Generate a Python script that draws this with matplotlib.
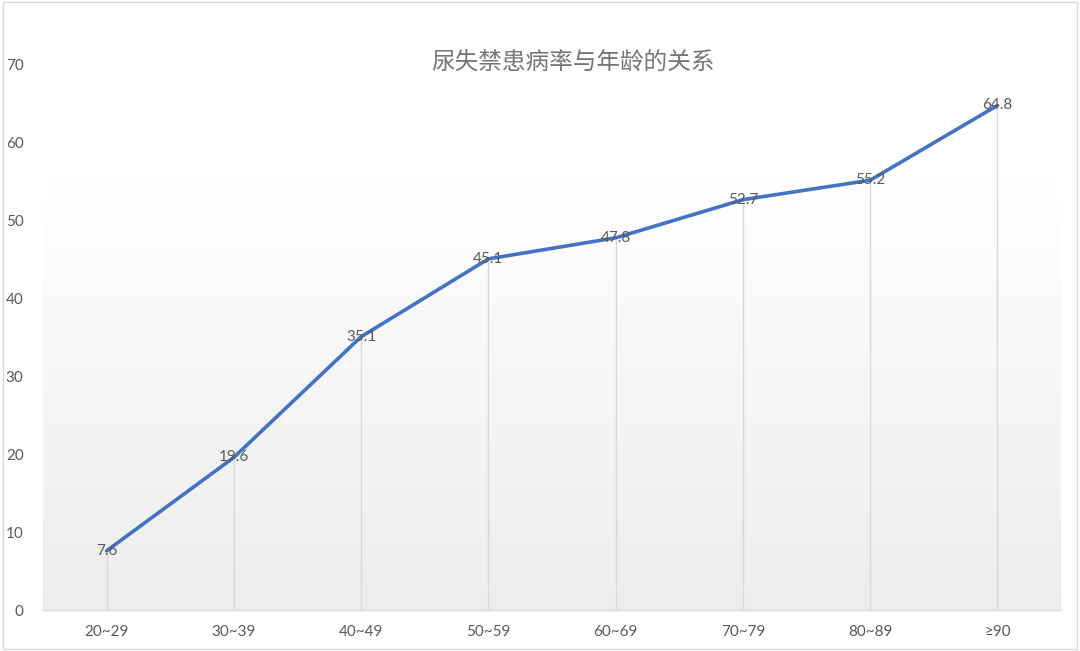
import numpy as np
import matplotlib
matplotlib.use("Agg")
import matplotlib.pyplot as plt
from matplotlib.patches import Rectangle

plt.rcParams['font.family'] = ['Lato', 'Noto Sans CJK SC', 'DejaVu Sans']

categories = ["20~29", "30~39", "40~49", "50~59", "60~69", "70~79", "80~89", "≥90"]
values = [7.6, 19.6, 35.1, 45.1, 47.8, 52.7, 55.2, 64.8]
title = "尿失禁患病率与年龄的关系"

gray_text = "#595959"
line_color = "#4472C4"

fig = plt.figure(figsize=(10.8, 6.51), dpi=100)
ax = fig.add_axes([43 / 1080, 1 - 610 / 651, (1061 - 43) / 1080, (610 - 65) / 651])

x = np.arange(len(categories))
ax.set_xlim(-0.5, len(categories) - 0.5)
ax.set_ylim(0, 70)

# soft gradient behind the lower part of the plot area
grad_top = (610 - 175) / (610 - 65)
grad = np.linspace(1.0, 0.0, 256).reshape(-1, 1)
shade = 1.0 - 0.07 * (1 - grad)
img = np.dstack([shade, shade, shade])
ax.imshow(img, extent=[0, 1, 0, grad_top], transform=ax.transAxes,
          aspect="auto", zorder=0, interpolation="bilinear")

# drop lines
ax.vlines(x, 0, values, colors="#d9d9d9", linewidth=1.0, zorder=1)
ax.plot(x, values, color=line_color, linewidth=2.6, zorder=3,
        solid_joinstyle="round", solid_capstyle="round")

for xi, v in zip(x, values):
    ax.text(xi, v, f"{v}", ha="center", va="center", fontsize=11,
            color=gray_text, zorder=4)

for side in ["top", "right", "left"]:
    ax.spines[side].set_visible(False)
ax.spines["bottom"].set_color("#d9d9d9")
ax.spines["bottom"].set_linewidth(1.0)

ax.set_xticks(x)
ax.set_xticklabels(categories)
ax.set_yticks(range(0, 71, 10))
ax.tick_params(axis="both", length=0, colors=gray_text, labelsize=11)
ax.tick_params(axis="x", pad=11)
ax.tick_params(axis="y", pad=14)

fig.text(573 / 1080, 1 - 63 / 651, title, ha="center", va="center",
         fontsize=17, color="#767676", family=['Noto Sans CJK SC', 'DejaVu Sans'])

fig.patches.append(Rectangle((0.003, 0.003), 0.994, 0.994, transform=fig.transFigure,
                             fill=False, edgecolor="#d9d9d9", linewidth=1.0))

fig.savefig("out.png", dpi=100)
